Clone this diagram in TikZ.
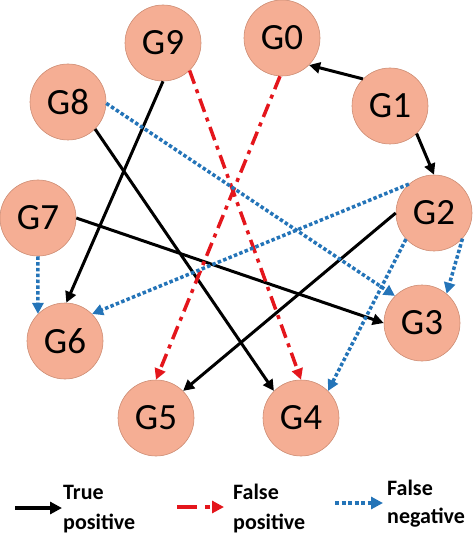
\documentclass[tikz,border=0pt]{standalone}
\usepackage{fontspec}
\setmainfont{Carlito}
\usetikzlibrary{arrows.meta}
\definecolor{nodefill}{RGB}{245,174,148}
\definecolor{nodeline}{RGB}{205,140,115}
\definecolor{fpred}{RGB}{228,22,28}
\definecolor{fnblue}{RGB}{36,116,184}
\tikzset{
  gene/.style={circle,minimum size=76pt,inner sep=0pt,fill=nodefill,draw=nodeline,line width=0.6pt,font=\fontsize{37}{40}\selectfont},
  tp/.style={line width=3pt,black,-{Triangle[length=11pt,width=11pt]}},
  fp/.style={line width=3.5pt,fpred,dash pattern=on 14pt off 6pt on 4pt off 6pt,-{Triangle[length=11pt,width=11pt]}},
  fn/.style={line width=3.5pt,fnblue,dash pattern=on 3.5pt off 2.3pt,-{Triangle[length=11pt,width=11pt]}},
  legtxt/.style={anchor=base west,inner sep=0pt,font=\fontsize{22}{28}\selectfont\bfseries}
}
\begin{document}
\begin{tikzpicture}[x=1pt,y=-1pt]
\useasboundingbox (0,0) rectangle (473,534);
\node[gene] (G0) at (282,38) {G0};
\node[gene] (G9) at (163,43) {G9};
\node[gene] (G8) at (68,102) {G8};
\node[gene] (G1) at (390,106) {G1};
\node[gene] (G7) at (38,218) {G7};
\node[gene] (G2) at (434,213) {G2};
\node[gene] (G6) at (65,341) {G6};
\node[gene] (G3) at (422,323) {G3};
\node[gene] (G5) at (156,418) {G5};
\node[gene] (G4) at (301,418) {G4};
% true positives
\draw[tp] (G1.135) -- (G0.315);
\draw[tp] (G1.314) -- (G2.north);
\draw[tp] (G9.south) -- (G6.88);
\draw[tp] (G8.315) -- (G4.135);
\draw[tp] (G7.east) -- (G3.west);
\draw[tp] (G2.west) -- (G5.45);
% false positives
\draw[fp] (G0.267) -- (G5.north);
\draw[fp] (G9.314) -- (G4.90);
% false negatives
\draw[fn] (G8.358) -- (G3.135);
\draw[fn] (G2.131) -- (G6.45);
\draw[fn] (G7.south) -- (G6.135);
\draw[fn] (G2.318) -- (G3.50);
\draw[fn] (G2.223) -- (G4.45);
% legend
\coordinate (l1s) at (15,508);
\coordinate (l1e) at (62,508);
\coordinate (l2s) at (177,507);
\coordinate (l2e) at (224,507);
\coordinate (l3s) at (335,503);
\coordinate (l3e) at (383,503);
\draw[tp,line width=4.5pt,-{Triangle[length=12pt,width=12pt]}] (l1s) -- (l1e);
\draw[fp,line width=4.5pt,dash pattern=on 20pt off 8pt on 5pt off 3pt,-{Triangle[length=12pt,width=12pt]}] (l2s) -- (l2e);
\draw[fn,line width=4.5pt,dash pattern=on 4pt off 2.5pt,-{Triangle[length=12pt,width=12pt]}] (l3s) -- (l3e);
\node[legtxt] (t1a) at (63,499) {True};
\node[legtxt] (t1b) at (63,529) {positive};
\node[legtxt] (t2a) at (233,499) {False};
\node[legtxt] (t2b) at (233,529) {positive};
\node[legtxt] (t3a) at (387,495) {False};
\node[legtxt] (t3b) at (387,523) {negative};
\end{tikzpicture}
\end{document}
